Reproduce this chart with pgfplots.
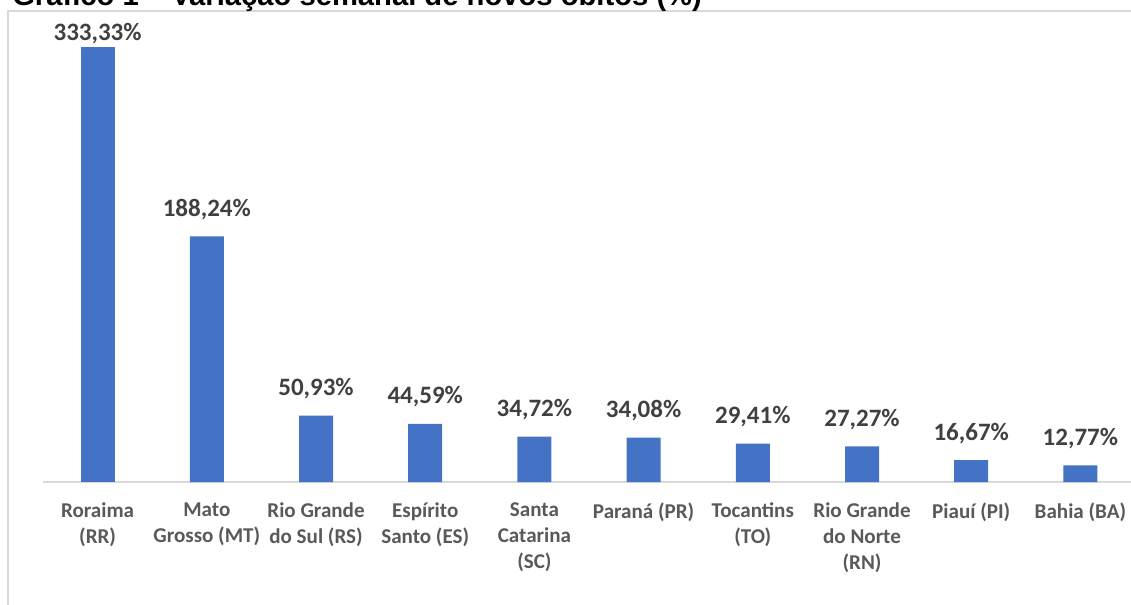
\documentclass[border=0pt]{standalone}
\usepackage{pgfplots}
\pgfplotsset{compat=1.18}
\usepackage{fontspec}
\setmainfont{Carlito}
\newfontfamily\titlefont{Liberation Sans}
\definecolor{barblue}{HTML}{4472C4}
\definecolor{labgray}{HTML}{595959}
\definecolor{datgray}{HTML}{404040}
\definecolor{linegray}{HTML}{D9D9D9}

\begin{document}
\begin{tikzpicture}[x=0.75pt,y=0.75pt]
% frame of the chart area (only top and left edges are visible)
\draw[linegray, line width=1pt] (8,-20) -- (8,593) -- (1150,593);
% title, cut at the top as in the reference
\node[anchor=base west, inner sep=0, font=\titlefont\bfseries\fontsize{21.9}{26}\selectfont]
  at (12,598) {Gráfico 1 – Variação semanal de novos óbitos (\%)};

\begin{axis}[
    at={(32.25pt,91.5pt)}, anchor=south west,
    scale only axis,
    width=819pt, height=342.56pt,
    xmin=-0.5, xmax=9.5,
    ymin=0, ymax=350,
    ybar, bar width=25.5pt, bar shift=0pt,
    axis x line*=bottom, axis y line=none,
    x axis line style={-, draw=linegray, line width=1pt},
    xtick={0,...,9},
    major tick length=0pt,
    xticklabels={{Roraima\\(RR)},{Mato\\Grosso (MT)},{Rio Grande\\do Sul (RS)},
      {Espírito\\Santo (ES)},{Santa\\Catarina\\(SC)},{Paraná (PR)},
      {Tocantins\\(TO)},{Rio Grande\\do Norte\\(RN)},{Piauí (PI)},{Bahia (BA)}},
    xticklabel style={font=\bfseries\fontsize{15.8}{19.5}\selectfont, text=labgray,
      align=center, inner sep=0pt, yshift=-15.5pt},
    nodes near coords={\pgfmathprintnumber[fixed,fixed zerofill,precision=2,use comma,assume math mode=true]{\pgfplotspointmeta}\%},
    nodes near coords style={font=\bfseries\fontsize{18.75}{22}\selectfont, text=datgray, anchor=base},
    clip=false,
]
\addplot[fill=barblue, draw=none, nodes near coords style={yshift=5.25pt}]
  coordinates {(0,333.33)};
\addplot[fill=barblue, draw=none, nodes near coords style={yshift=15pt}]
  coordinates {(1,188.24) (2,50.93) (3,44.59) (4,34.72) (5,34.08)
               (6,29.41) (7,27.27) (8,16.67) (9,12.77)};
\end{axis}

\pgfresetboundingbox
\useasboundingbox (0,0) rectangle (1131,604);
\end{tikzpicture}
\end{document}
